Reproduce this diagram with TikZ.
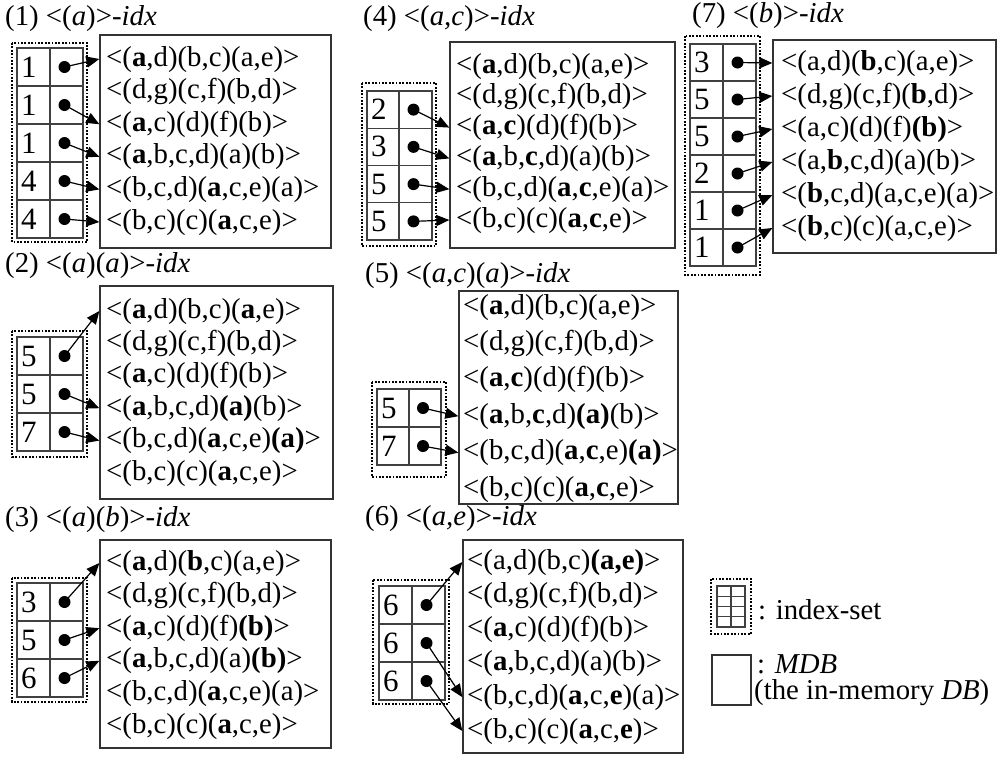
\documentclass[tikz,border=0pt]{standalone}
\usepackage{fontspec}
\setmainfont{Liberation Serif}
\usetikzlibrary{arrows.meta,fit}
\newcommand{\idxset}[7]{%
  \foreach \v [count=\k from 0] in {#7} {
    \draw[gridl] (#2,{#5+#6*\k}) rectangle (#4,{#5+#6*(\k+1)});
    \draw[gridl] (#3,{#5+#6*\k}) -- (#3,{#5+#6*(\k+1)});
    \node[val] (#1v\k) at ({#2+4},{#5+#6*(\k+0.5)}) {\v};
    \coordinate (#1d\k) at ({(#3+#4)/2-2},{#5+#6*(\k+0.5)});
    \fill (#1d\k) circle[radius=6pt];
  }}
\newcommand{\seqs}[5]{%
  \foreach \t [count=\i from 0] in {#5} {\node[seq] (#1l\i) at (#2,{#3+#4*\i}) {\t};}}
\newcommand{\links}[2]{%
  \foreach \r/\l in {#2} {\draw[arr] (#1d\r) -- (#1box.west |- #1l\l.west);}}
\begin{document}
\begin{tikzpicture}[x=1pt,y=-1pt,
  font=\fontsize{28.8}{33}\selectfont,
  mdb/.style={draw=black!80, line width=1.3pt, inner sep=0pt},
  seq/.style={anchor=west, inner sep=0pt, text height=19pt, text depth=5pt},
  ttl/.style={anchor=west, inner sep=0pt, text height=19pt, text depth=5pt},
  val/.style={anchor=west, inner sep=0pt, text height=20pt, text depth=0pt, font=\fontsize{31}{33}\selectfont},
  gridl/.style={draw=black!75, line width=1.3pt},
  dotbox/.style={draw=black, line width=1.8pt, dash pattern=on 1.8pt off 1.6pt},
  arr/.style={line width=1.2pt, -{Triangle[length=13pt,width=11pt]}}
]
\useasboundingbox (0,0) rectangle (999,756);

% ---------- (1)
\node[ttl] (t1) at (5,18) {(1) <(\textit{a})>\textit{-idx}};
\node[mdb, fit={(100,35)(331,248)}] (P1box) {};
\seqs{P1}{106}{59}{32.6}{{<(\textbf{a},d)(b,c)(a,e)>},{<(d,g)(c,f)(b,d)>},{<(\textbf{a},c)(d)(f)(b)>},{<(\textbf{a},b,c,d)(a)(b)>},{<(b,c,d)(\textbf{a},c,e)(a)>},{<(b,c)(c)(\textbf{a},c,e)>}}
\draw[dotbox] (12,43) rectangle (87,242);
\idxset{P1}{17}{50}{83}{48}{38}{1,1,1,4,4}
\links{P1}{0/0,1/2,2/3,3/4,4/5}

% ---------- (2)
\node[ttl] (t2) at (5,265) {(2) <(\textit{a})(\textit{a})>\textit{-idx}};
\node[mdb, fit={(100,286)(333,499)}] (P2box) {};
\seqs{P2}{106}{311}{32.4}{{<(\textbf{a},d)(b,c)(\textbf{a},e)>},{<(d,g)(c,f)(b,d)>},{<(\textbf{a},c)(d)(f)(b)>},{<(\textbf{a},b,c,d)\textbf{(a)}(b)>},{<(b,c,d)(\textbf{a},c,e)\textbf{(a)}>},{<(b,c)(c)(\textbf{a},c,e)>}}
\draw[dotbox] (12,331) rectangle (87,457);
\idxset{P2}{17}{50}{83}{337}{38}{5,5,7}
\links{P2}{0/0,1/3,2/4}

% ---------- (3)
\node[ttl] (t3) at (5,519) {(3) <(\textit{a})(\textit{b})>\textit{-idx}};
\node[mdb, fit={(100,540)(331,748)}] (P3box) {};
\seqs{P3}{106}{563}{32.6}{{<(\textbf{a},d)(\textbf{b},c)(a,e)>},{<(d,g)(c,f)(b,d)>},{<(\textbf{a},c)(d)(f)\textbf{(b)}>},{<(\textbf{a},b,c,d)(a)\textbf{(b)}>},{<(b,c,d)(\textbf{a},c,e)(a)>},{<(b,c)(c)(\textbf{a},c,e)>}}
\draw[dotbox] (12,578) rectangle (87,702);
\idxset{P3}{17}{50}{83}{583}{38}{3,5,6}
\links{P3}{0/0,1/2,2/3}

% ---------- (4)
\node[ttl] (t4) at (363,18) {(4) <(\textit{a,c})>\textit{-idx}};
\node[mdb, fit={(450,42)(675,248)}] (P4box) {};
\seqs{P4}{456}{66}{30.8}{{<(\textbf{a},d)(b,c)(a,e)>},{<(d,g)(c,f)(b,d)>},{<(\textbf{a},\textbf{c})(d)(f)(b)>},{<(\textbf{a},b,\textbf{c},d)(a)(b)>},{<(b,c,d)(\textbf{a},\textbf{c},e)(a)>},{<(b,c)(c)(\textbf{a},\textbf{c},e)>}}
\draw[dotbox] (362,83) rectangle (436,246);
\idxset{P4}{367}{399}{432}{91}{37.25}{2,3,5,5}
\links{P4}{0/2,1/3,2/4,3/5}

% ---------- (5)
\node[ttl] (t5) at (365,275) {(5) <(\textit{a,c})(\textit{a})>\textit{-idx}};
\node[mdb, fit={(459,291)(678,504)}] (P5box) {};
\seqs{P5}{463}{307}{36.4}{{<(\textbf{a},d)(b,c)(a,e)>},{<(d,g)(c,f)(b,d)>},{<(\textbf{a},\textbf{c})(d)(f)(b)>},{<(\textbf{a},b,\textbf{c},d)\textbf{(a)}(b)>},{<(b,c,d)(\textbf{a},\textbf{c},e)\textbf{(a)}>},{<(b,c)(c)(\textbf{a},\textbf{c},e)>}}
\draw[dotbox] (372,382) rectangle (446,477);
\idxset{P5}{377}{409}{441}{389}{38}{5,7}
\links{P5}{0/3,1/4}

% ---------- (6)
\node[ttl] (t6) at (365,518) {(6) <(\textit{a,e})>\textit{-idx}};
\node[mdb, fit={(463,540)(683,753)}] (P6box) {};
\seqs{P6}{467}{562}{33.8}{{<(a,d)(b,c)\textbf{(a,e)}>},{<(d,g)(c,f)(b,d)>},{<(\textbf{a},c)(d)(f)(b)>},{<(\textbf{a},b,c,d)(a)(b)>},{<(b,c,d)(\textbf{a},c,\textbf{e})(a)>},{<(b,c)(c)(\textbf{a},c,\textbf{e})>}}
\draw[dotbox] (373,580) rectangle (449,704);
\idxset{P6}{379}{412}{445}{586}{38}{6,6,6}
\links{P6}{0/0,1/4,2/5}

% ---------- (7)
\node[ttl] (t7) at (692,15) {(7) <(\textit{b})>\textit{-idx}};
\node[mdb, fit={(773,40)(996,253)}] (P7box) {};
\seqs{P7}{781}{63}{33}{{<(a,d)(\textbf{b},c)(a,e)>},{<(d,g)(c,f)(\textbf{b},d)>},{<(a,c)(d)(f)\textbf{(b)}>},{<(a,\textbf{b},c,d)(a)(b)>},{<(\textbf{b},c,d)(a,c,e)(a)>},{<(\textbf{b},c)(c)(a,c,e)>}}
\draw[dotbox] (685,36) rectangle (760,275);
\idxset{P7}{690}{723}{756}{44}{37}{3,5,5,2,1,1}
\links{P7}{0/0,1/1,2/2,3/3,4/4,5/5}

% ---------- legend
\draw[dotbox] (711,579) rectangle (751,634);
\foreach \k in {0,1,2,3} {
  \draw[gridl] (717,{586+10.25*\k}) rectangle (745,{586+10.25*(\k+1)});
}
\draw[gridl] (731,586) -- (731,627);
\node[anchor=west, inner sep=0pt] (lg1) at (758,610) {: index-set};
\node[mdb, fit={(712,655)(751,705)}] (lgbox) {};
\node[anchor=west, inner sep=0pt] (lg2) at (757,664) {: \textit{MDB}};
\node[anchor=west, inner sep=0pt] (lg3) at (754,693) {(the in-memory \textit{DB})};
\end{tikzpicture}
\end{document}
